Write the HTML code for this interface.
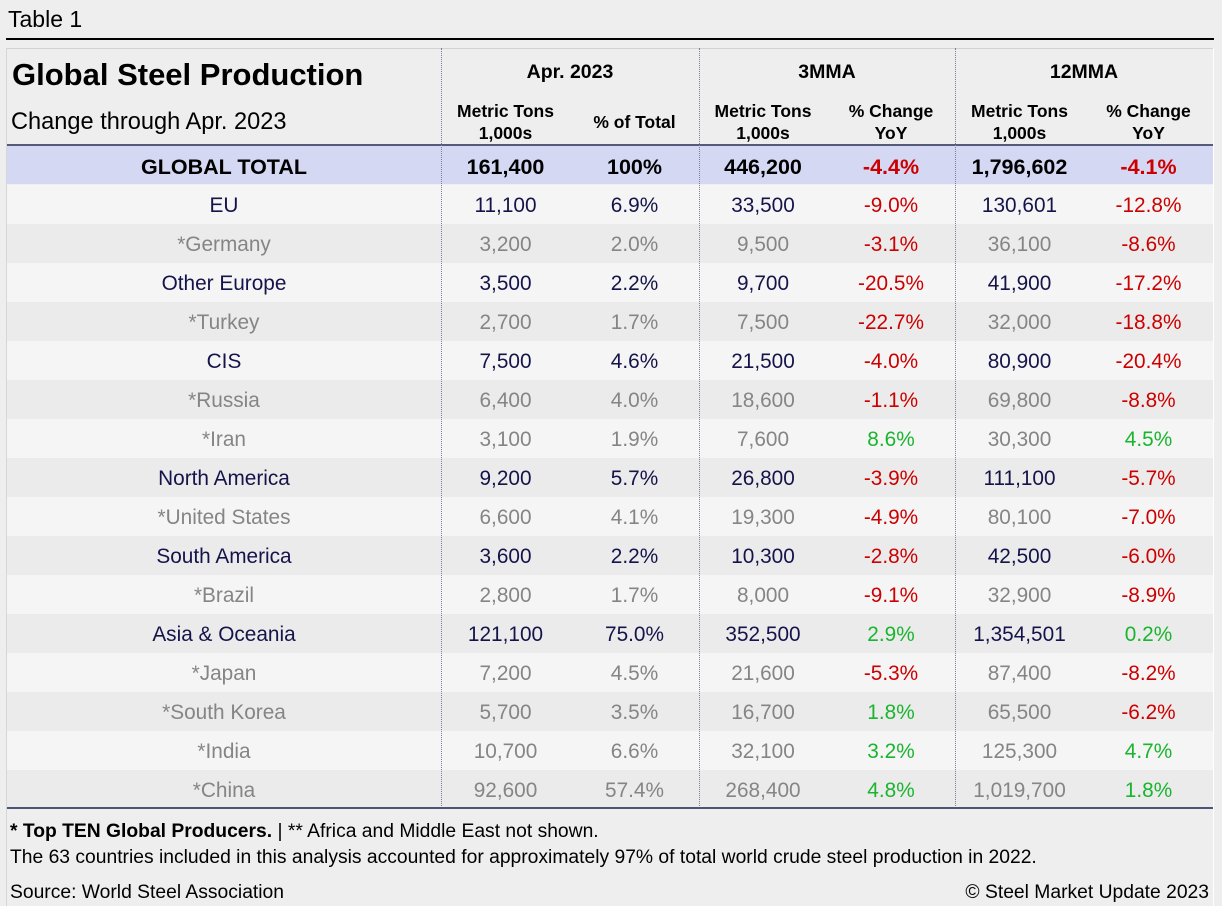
<!DOCTYPE html>
<html><head><meta charset="utf-8"><style>
*{margin:0;padding:0;box-sizing:border-box}
body{width:1222px;height:906px;background:#eeeeee;position:relative;overflow:hidden;font-family:"Liberation Sans",Arial,sans-serif;color:#000}
.a{position:absolute;white-space:nowrap}
.row{position:absolute;left:7px;width:1206px;height:39px}
.c{position:absolute;top:0;height:39px;line-height:42px;text-align:center;font-size:20.8px}
.l{left:0;width:434px}
.m1{left:434px;width:129px}
.p1{left:563px;width:129px}
.m2{left:692px;width:128px}
.p2{left:820px;width:128px}
.m3{left:948px;width:129px}
.p3{left:1077px;width:129px}
.navy{color:#14144a}
.gray{color:#858585}
.red{color:#cc0000}
.green{color:#1ab52e}
.odd{background:#f5f5f5}
.even{background:#ebebeb}
.sep{position:absolute;top:48px;height:760px;width:0;border-left:1px dotted #7a7f99}
.hd{position:absolute;font-weight:bold;font-size:17.5px;text-align:center;line-height:22px}
.ft{position:absolute;white-space:nowrap;font-size:19.3px;line-height:24px}
</style></head><body>
<div class="a" style="left:8px;top:5px;font-size:23px;line-height:28px">Table 1</div>
<div class="a" style="left:6px;top:38px;width:1208px;height:2px;background:#000"></div>
<!-- table frame -->
<div class="a" style="left:6px;top:48px;width:1208px;height:1px;background:#d2d2d2"></div>
<div class="a" style="left:6px;top:48px;width:1px;height:858px;background:#d6d6d6"></div>
<div class="a" style="left:1213px;top:48px;width:1px;height:858px;background:#ffffff"></div>
<div class="a" style="left:12px;top:55px;font-size:31px;font-weight:bold;line-height:40px">Global Steel Production</div>
<div class="a" style="left:11px;top:108px;font-size:23.6px;line-height:28px">Change through Apr. 2023</div>
<div class="hd" style="left:441px;width:258px;top:61px;font-size:19.5px">Apr. 2023</div>
<div class="hd" style="left:699px;width:256px;top:61px;font-size:19.5px">3MMA</div>
<div class="hd" style="left:955px;width:258px;top:61px;font-size:19.5px">12MMA</div>
<div class="hd" style="left:441px;width:129px;top:100px">Metric Tons<br>1,000s</div>
<div class="hd" style="left:570px;width:129px;top:111px">% of Total</div>
<div class="hd" style="left:699px;width:128px;top:100px">Metric Tons<br>1,000s</div>
<div class="hd" style="left:827px;width:128px;top:100px">% Change<br>YoY</div>
<div class="hd" style="left:955px;width:129px;top:100px">Metric Tons<br>1,000s</div>
<div class="hd" style="left:1084px;width:129px;top:100px">% Change<br>YoY</div>
<div class="a" style="left:7px;top:144px;width:1206px;height:2px;background:#555a7a"></div>
<div class="row" style="top:146px;height:38px;background:#d4d8f2;font-weight:bold">
<div class="c l" style="height:38px;line-height:42px;font-size:21.5px">GLOBAL TOTAL</div>
<div class="c m1" style="height:38px;line-height:42px;font-size:21.5px">161,400</div>
<div class="c p1" style="height:38px;line-height:42px;font-size:21.5px">100%</div>
<div class="c m2" style="height:38px;line-height:42px;font-size:21.5px">446,200</div>
<div class="c p2 red" style="height:38px;line-height:42px;font-size:21.5px">-4.4%</div>
<div class="c m3" style="height:38px;line-height:42px;font-size:21.5px">1,796,602</div>
<div class="c p3 red" style="height:38px;line-height:42px;font-size:21.5px">-4.1%</div>
</div>

<div class="row odd navy" style="top:185px"><div class="c l">EU</div><div class="c m1">11,100</div><div class="c p1">6.9%</div><div class="c m2">33,500</div><div class="c p2 red">-9.0%</div><div class="c m3">130,601</div><div class="c p3 red">-12.8%</div></div>
<div class="row even gray" style="top:224px"><div class="c l">*Germany</div><div class="c m1">3,200</div><div class="c p1">2.0%</div><div class="c m2">9,500</div><div class="c p2 red">-3.1%</div><div class="c m3">36,100</div><div class="c p3 red">-8.6%</div></div>
<div class="row odd navy" style="top:263px"><div class="c l">Other Europe</div><div class="c m1">3,500</div><div class="c p1">2.2%</div><div class="c m2">9,700</div><div class="c p2 red">-20.5%</div><div class="c m3">41,900</div><div class="c p3 red">-17.2%</div></div>
<div class="row even gray" style="top:302px"><div class="c l">*Turkey</div><div class="c m1">2,700</div><div class="c p1">1.7%</div><div class="c m2">7,500</div><div class="c p2 red">-22.7%</div><div class="c m3">32,000</div><div class="c p3 red">-18.8%</div></div>
<div class="row odd navy" style="top:341px"><div class="c l">CIS</div><div class="c m1">7,500</div><div class="c p1">4.6%</div><div class="c m2">21,500</div><div class="c p2 red">-4.0%</div><div class="c m3">80,900</div><div class="c p3 red">-20.4%</div></div>
<div class="row even gray" style="top:380px"><div class="c l">*Russia</div><div class="c m1">6,400</div><div class="c p1">4.0%</div><div class="c m2">18,600</div><div class="c p2 red">-1.1%</div><div class="c m3">69,800</div><div class="c p3 red">-8.8%</div></div>
<div class="row odd gray" style="top:419px"><div class="c l">*Iran</div><div class="c m1">3,100</div><div class="c p1">1.9%</div><div class="c m2">7,600</div><div class="c p2 green">8.6%</div><div class="c m3">30,300</div><div class="c p3 green">4.5%</div></div>
<div class="row even navy" style="top:458px"><div class="c l">North America</div><div class="c m1">9,200</div><div class="c p1">5.7%</div><div class="c m2">26,800</div><div class="c p2 red">-3.9%</div><div class="c m3">111,100</div><div class="c p3 red">-5.7%</div></div>
<div class="row odd gray" style="top:497px"><div class="c l">*United States</div><div class="c m1">6,600</div><div class="c p1">4.1%</div><div class="c m2">19,300</div><div class="c p2 red">-4.9%</div><div class="c m3">80,100</div><div class="c p3 red">-7.0%</div></div>
<div class="row even navy" style="top:536px"><div class="c l">South America</div><div class="c m1">3,600</div><div class="c p1">2.2%</div><div class="c m2">10,300</div><div class="c p2 red">-2.8%</div><div class="c m3">42,500</div><div class="c p3 red">-6.0%</div></div>
<div class="row odd gray" style="top:575px"><div class="c l">*Brazil</div><div class="c m1">2,800</div><div class="c p1">1.7%</div><div class="c m2">8,000</div><div class="c p2 red">-9.1%</div><div class="c m3">32,900</div><div class="c p3 red">-8.9%</div></div>
<div class="row even navy" style="top:614px"><div class="c l">Asia &amp; Oceania</div><div class="c m1">121,100</div><div class="c p1">75.0%</div><div class="c m2">352,500</div><div class="c p2 green">2.9%</div><div class="c m3">1,354,501</div><div class="c p3 green">0.2%</div></div>
<div class="row odd gray" style="top:653px"><div class="c l">*Japan</div><div class="c m1">7,200</div><div class="c p1">4.5%</div><div class="c m2">21,600</div><div class="c p2 red">-5.3%</div><div class="c m3">87,400</div><div class="c p3 red">-8.2%</div></div>
<div class="row even gray" style="top:692px"><div class="c l">*South Korea</div><div class="c m1">5,700</div><div class="c p1">3.5%</div><div class="c m2">16,700</div><div class="c p2 green">1.8%</div><div class="c m3">65,500</div><div class="c p3 red">-6.2%</div></div>
<div class="row odd gray" style="top:731px"><div class="c l">*India</div><div class="c m1">10,700</div><div class="c p1">6.6%</div><div class="c m2">32,100</div><div class="c p2 green">3.2%</div><div class="c m3">125,300</div><div class="c p3 green">4.7%</div></div>
<div class="row even gray" style="top:770px"><div class="c l">*China</div><div class="c m1">92,600</div><div class="c p1">57.4%</div><div class="c m2">268,400</div><div class="c p2 green">4.8%</div><div class="c m3">1,019,700</div><div class="c p3 green">1.8%</div></div>

<div class="sep" style="left:441px"></div>
<div class="sep" style="left:699px"></div>
<div class="sep" style="left:955px"></div>
<div class="a" style="left:7px;top:807px;width:1206px;height:2px;background:#4f5474"></div>

<div class="ft" style="left:10px;top:820px"><b>* Top TEN Global Producers.</b> | ** Africa and Middle East not shown.</div>
<div class="ft" style="left:10px;top:846px">The 63 countries included in this analysis accounted for approximately 97% of total world crude steel production in 2022.</div>
<div class="ft" style="left:10px;top:881px">Source: World Steel Association</div>
<div class="ft" style="right:13px;top:881px">© Steel Market Update 2023</div>
</body></html>
